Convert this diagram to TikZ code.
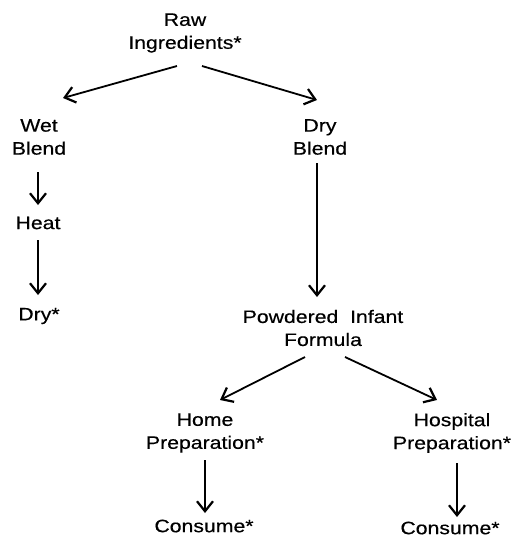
\documentclass[tikz,border=0pt]{standalone}
\usepackage{fontspec}
\setmainfont{Liberation Sans}[FakeStretch=1.18,FakeBold=0.4]
\usepackage{tikz}
\usetikzlibrary{arrows.meta}
\usetikzlibrary{positioning}
\tikzset{
    step node/.style = {align=center, inner sep=0pt, font=\fontsize{18}{23}\selectfont},
}

\begin{document}
\begin{tikzpicture}[
	x=1pt,
	y=-1pt,
	line width=1.8pt
]
\tikzset{
    flow/.style = {-{Straight Barb[length=10pt,width=16pt,line width=2.2pt]}}
}
\useasboundingbox (0,0) rectangle (521,547);
\node[step node] at (185,33) (raw) {Raw\\Ingredients*};
\node[step node] at (39,137) (wet) {Wet\\Blend};
\node[step node] at (320,137) (dryb) {Dry\\Blend};
\node[step node] at (38,223) (heat) {Heat};
\node[step node] at (39,316) (dry) {Dry*};
\node[step node] at (323,328) (pif) {Powdered\ \ Infant\\Formula};
\node[step node] at (205,433) (home) {Home\\Preparation*};
\node[step node] at (452,433) (hosp) {Hospital\\Preparation*};
\node[step node] at (204,526) (consa) {Consume*};
\node[step node] at (450,528) (consb) {Consume*};
%
\draw[flow] ([shift={(-8,33)}]raw.center) -- ([shift={(24,-39)}]wet.center);
\draw[flow] ([shift={(17,33)}]raw.center) -- ([shift={(-3,-37)}]dryb.center);
%
\draw[flow] ([shift={(-1,35)}]wet.center) -- ([shift={(0,-18)}]heat.center);
\draw[flow] ([shift={(0,17)}]heat.center) -- ([shift={(-1,-21)}]dry.center);
\draw[flow] ([shift={(-3,26)}]dryb.center) -- ([shift={(-6,-31)}]pif.center);
%
\draw[flow] ([shift={(-18,29)}]pif.center) -- ([shift={(15,-33)}]home.center);
\draw[flow] ([shift={(22,29)}]pif.center) -- ([shift={(-15,-33)}]hosp.center);
%
\draw[flow] ([shift={(0,27)}]home.center) -- ([shift={(1,-13)}]consa.center);
\draw[flow] ([shift={(5,30)}]hosp.center) -- ([shift={(7,-11)}]consb.center);
\end{tikzpicture}
\end{document}
